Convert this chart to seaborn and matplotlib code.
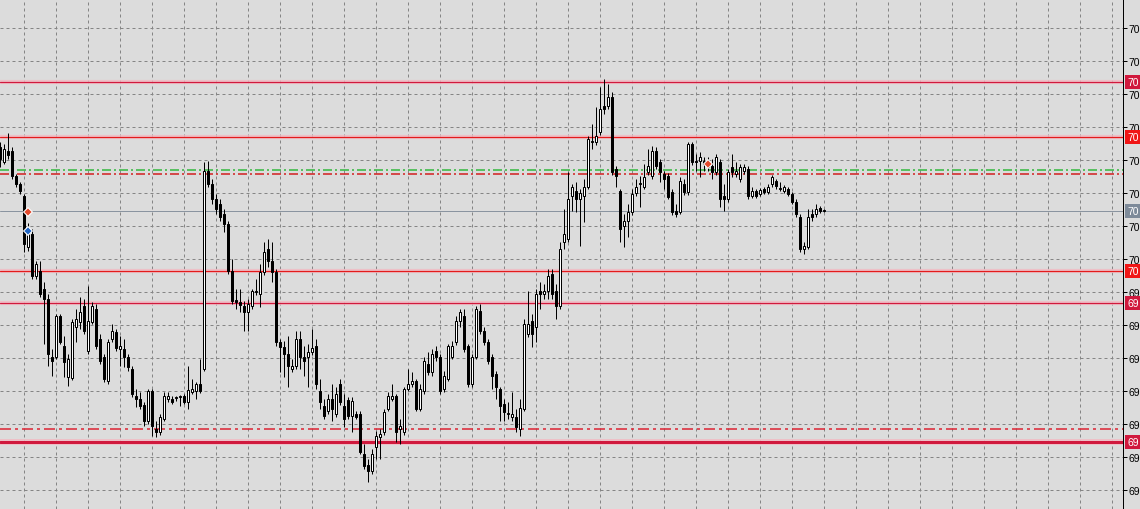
import numpy as np
import pandas as pd
import matplotlib
matplotlib.use("Agg")
from matplotlib import pyplot as plt
from matplotlib import transforms
import seaborn as sns

sns.set_theme(style="white")
plt.rcParams['font.family'] = ['Liberation Sans', 'DejaVu Sans']
plt.rcParams['lines.scale_dashes'] = False

# OHLC bars ~~~~~~~~~~~~~~~~~~~~~~~~~~~~~~~~~~~~~~~~~~~~~~~~~~~~~~~~~~~~~~~
open_ = [70.112, 70.097, 70.108, 70.108, 70.083, 70.075, 70.063, 70.012, 70.025, 69.983,
         69.988, 69.970, 69.960, 69.902, 69.902, 69.943, 69.913, 69.882, 69.881, 69.932,
         69.937, 69.953, 69.908, 69.937, 69.950, 69.920, 69.902, 69.878, 69.920, 69.927,
         69.910, 69.910, 69.902, 69.890, 69.863, 69.860, 69.854, 69.838, 69.868, 69.830,
         69.827, 69.840, 69.860, 69.860, 69.861, 69.862, 69.863, 69.857, 69.867, 69.868,
         69.875, 69.890, 70.088, 70.075, 70.060, 70.055, 70.045, 70.035, 69.988, 69.959,
         69.957, 69.953, 69.947, 69.953, 69.967, 69.965, 69.987, 70.010, 69.998, 69.987,
         69.917, 69.912, 69.905, 69.890, 69.893, 69.920, 69.902, 69.902, 69.907, 69.913,
         69.868, 69.853, 69.848, 69.860, 69.845, 69.875, 69.853, 69.859, 69.843, 69.845,
         69.845, 69.805, 69.794, 69.788, 69.812, 69.822, 69.827, 69.850, 69.860, 69.863,
         69.830, 69.827, 69.870, 69.875, 69.878, 69.850, 69.868, 69.895, 69.887, 69.908,
         69.902, 69.870, 69.880, 69.902, 69.917, 69.938, 69.943, 69.913, 69.875, 69.902,
         69.948, 69.928, 69.917, 69.902, 69.885, 69.870, 69.855, 69.845, 69.842, 69.842,
         69.830, 69.850, 69.925, 69.938, 69.932, 69.968, 69.965, 69.968, 69.985, 69.968,
         69.953, 70.017, 70.020, 70.063, 70.068, 70.060, 70.063, 70.072, 70.117, 70.117,
         70.127, 70.153, 70.153, 70.162, 70.090, 70.068, 70.033, 70.038, 70.047, 70.066,
         70.075, 70.072, 70.087, 70.083, 70.108, 70.097, 70.085, 70.083, 70.067, 70.048,
         70.047, 70.075, 70.067, 70.115, 70.098, 70.098, 70.098, 70.097, 70.093, 70.087,
         70.097, 70.063, 70.060, 70.092, 70.085, 70.080, 70.088, 70.090, 70.063, 70.068,
         70.065, 70.070, 70.067, 70.075, 70.078, 70.070, 70.068, 70.070, 70.065, 70.057,
         70.042, 70.010, 70.012, 70.045, 70.045, 70.051, 70.048]

high = [70.117, 70.115, 70.126, 70.112, 70.085, 70.077, 70.065, 70.036, 70.030, 69.998,
        69.998, 69.977, 69.965, 69.910, 69.945, 69.945, 69.923, 69.905, 69.940, 69.950,
        69.962, 69.960, 69.973, 69.957, 69.955, 69.925, 69.905, 69.920, 69.935, 69.930,
        69.923, 69.920, 69.905, 69.893, 69.870, 69.867, 69.857, 69.870, 69.870, 69.838,
        69.845, 69.867, 69.867, 69.863, 69.863, 69.864, 69.865, 69.893, 69.880, 69.877,
        69.900, 70.097, 70.098, 70.080, 70.065, 70.060, 70.050, 70.038, 70.000, 69.970,
        69.970, 69.958, 69.960, 69.970, 69.980, 69.995, 70.017, 70.020, 70.017, 69.990,
        69.920, 69.918, 69.923, 69.900, 69.928, 69.928, 69.913, 69.915, 69.930, 69.920,
        69.880, 69.860, 69.865, 69.875, 69.872, 69.880, 69.865, 69.862, 69.862, 69.848,
        69.848, 69.815, 69.800, 69.810, 69.828, 69.830, 69.850, 69.867, 69.875, 69.865,
        69.840, 69.872, 69.890, 69.887, 69.880, 69.875, 69.902, 69.907, 69.910, 69.913,
        69.905, 69.888, 69.915, 69.918, 69.943, 69.950, 69.950, 69.915, 69.905, 69.953,
        69.955, 69.932, 69.920, 69.905, 69.888, 69.872, 69.860, 69.857, 69.867, 69.850,
        69.860, 69.940, 69.968, 69.945, 69.970, 69.977, 69.975, 69.990, 69.990, 69.975,
        70.017, 70.050, 70.087, 70.075, 70.077, 70.070, 70.080, 70.123, 70.135, 70.152,
        70.172, 70.180, 70.175, 70.167, 70.093, 70.070, 70.045, 70.055, 70.070, 70.080,
        70.083, 70.095, 70.110, 70.113, 70.112, 70.100, 70.088, 70.086, 70.070, 70.055,
        70.082, 70.080, 70.117, 70.117, 70.105, 70.107, 70.102, 70.102, 70.100, 70.105,
        70.100, 70.075, 70.090, 70.105, 70.097, 70.095, 70.095, 70.093, 70.072, 70.070,
        70.071, 70.072, 70.075, 70.084, 70.080, 70.077, 70.074, 70.072, 70.067, 70.060,
        70.045, 70.017, 70.050, 70.050, 70.055, 70.053, 70.050]

low = [70.092, 70.095, 70.100, 70.080, 70.072, 70.065, 70.007, 70.008, 69.980, 69.980,
       69.962, 69.915, 69.893, 69.883, 69.900, 69.915, 69.882, 69.873, 69.879, 69.917,
       69.930, 69.925, 69.905, 69.935, 69.910, 69.895, 69.877, 69.875, 69.917, 69.908,
       69.893, 69.892, 69.888, 69.862, 69.852, 69.850, 69.833, 69.835, 69.823, 69.822,
       69.824, 69.838, 69.857, 69.855, 69.858, 69.853, 69.855, 69.850, 69.865, 69.860,
       69.866, 69.888, 70.072, 70.055, 70.045, 70.038, 70.027, 69.985, 69.955, 69.950,
       69.947, 69.928, 69.928, 69.950, 69.964, 69.952, 69.984, 69.992, 69.977, 69.913,
       69.887, 69.882, 69.872, 69.887, 69.890, 69.890, 69.883, 69.872, 69.904, 69.870,
       69.850, 69.840, 69.845, 69.838, 69.842, 69.854, 69.832, 69.840, 69.827, 69.840,
       69.805, 69.790, 69.777, 69.785, 69.800, 69.800, 69.824, 69.848, 69.858, 69.817,
       69.815, 69.824, 69.868, 69.872, 69.848, 69.848, 69.865, 69.884, 69.883, 69.898,
       69.865, 69.867, 69.878, 69.900, 69.914, 69.932, 69.907, 69.872, 69.872, 69.900,
       69.925, 69.914, 69.895, 69.870, 69.860, 69.838, 69.838, 69.840, 69.838, 69.827,
       69.823, 69.848, 69.922, 69.912, 69.917, 69.950, 69.960, 69.960, 69.960, 69.940,
       69.950, 70.010, 70.017, 70.048, 70.047, 70.013, 70.037, 70.070, 70.110, 70.114,
       70.124, 70.145, 70.150, 70.084, 70.072, 70.017, 70.012, 70.022, 70.044, 70.063,
       70.052, 70.070, 70.084, 70.080, 70.090, 70.077, 70.070, 70.060, 70.044, 70.042,
       70.045, 70.064, 70.064, 70.094, 70.088, 70.082, 70.088, 70.088, 70.080, 70.084,
       70.052, 70.048, 70.057, 70.082, 70.082, 70.077, 70.085, 70.060, 70.061, 70.061,
       70.063, 70.065, 70.065, 70.072, 70.070, 70.068, 70.066, 70.063, 70.055, 70.042,
       70.007, 70.005, 70.010, 70.038, 70.042, 70.046, 70.047]

close = [70.100, 70.110, 70.104, 70.083, 70.075, 70.068, 70.015, 70.030, 69.983, 69.995,
         69.965, 69.960, 69.905, 69.898, 69.943, 69.917, 69.897, 69.900, 69.937, 69.940,
         69.947, 69.928, 69.938, 69.953, 69.913, 69.898, 69.880, 69.917, 69.928, 69.911,
         69.913, 69.902, 69.892, 69.865, 69.860, 69.853, 69.838, 69.868, 69.833, 69.827,
         69.842, 69.863, 69.863, 69.857, 69.861, 69.862, 69.857, 69.869, 69.870, 69.875,
         69.868, 70.088, 70.075, 70.060, 70.050, 70.042, 70.035, 69.988, 69.958, 69.957,
         69.954, 69.947, 69.955, 69.968, 69.968, 69.987, 70.007, 69.998, 69.987, 69.917,
         69.912, 69.905, 69.893, 69.893, 69.920, 69.902, 69.898, 69.907, 69.911, 69.875,
         69.857, 69.843, 69.860, 69.850, 69.865, 69.857, 69.840, 69.843, 69.858, 69.842,
         69.807, 69.793, 69.788, 69.805, 69.823, 69.825, 69.847, 69.863, 69.863, 69.827,
         69.833, 69.870, 69.875, 69.878, 69.850, 69.870, 69.898, 69.887, 69.905, 69.902,
         69.868, 69.883, 69.913, 69.913, 69.938, 69.947, 69.910, 69.875, 69.902, 69.950,
         69.928, 69.917, 69.898, 69.883, 69.872, 69.853, 69.847, 69.845, 69.845, 69.832,
         69.851, 69.935, 69.935, 69.925, 69.965, 69.965, 69.968, 69.983, 69.965, 69.953,
         70.010, 70.025, 70.060, 70.072, 70.060, 70.066, 70.072, 70.120, 70.118, 70.123,
         70.150, 70.150, 70.162, 70.087, 70.083, 70.030, 70.038, 70.047, 70.065, 70.072,
         70.075, 70.082, 70.093, 70.108, 70.093, 70.087, 70.080, 70.062, 70.047, 70.045,
         70.078, 70.067, 70.115, 70.097, 70.097, 70.102, 70.095, 70.092, 70.087, 70.102,
         70.060, 70.060, 70.087, 70.087, 70.088, 70.092, 70.092, 70.063, 70.068, 70.063,
         70.069, 70.067, 70.072, 70.082, 70.073, 70.070, 70.072, 70.065, 70.057, 70.045,
         70.010, 70.013, 70.042, 70.042, 70.050, 70.048, 70.048]

# horizontal levels
sr_levels = [70.177, 70.122, 69.988, 69.956, 69.817]   # solid lines with price tag
sr_tags = ["70", "70", "70", "69", "69"]
pivot_green = 70.0895
pivot_red = 70.0855
dashed_level = 69.830
bid_price = 70.048
bid_tag = "70"

# trade arrows
trade_bar = [7, 7, 177]
trade_price = [70.047, 70.028, 70.095]
trade_side = ["sell", "buy", "sell"]

# right axis
tick_prices = [70.231, 70.198, 70.165, 70.132, 70.099, 70.066, 70.033, 70.000,
               69.967, 69.934, 69.901, 69.868, 69.835, 69.802, 69.769]
tick_labels = ["70", "70", "70", "70", "70", "70", "70", "70",
               "69", "69", "69", "69", "69", "69", "69"]

df = pd.DataFrame({'open': open_, 'high': high, 'low': low, 'close': close})
df['bar'] = np.arange(len(df))
df['up'] = df['close'] >= df['open']

PX = 0.72  # one pixel in points
BG = '#dcdcdc'

fig = plt.figure(figsize=(11.4, 5.1), dpi=100, facecolor=BG)
ax = fig.add_axes([0, 0, 1123 / 1140, 1])
ax.set_facecolor(BG)

# grid ~~~~~~~~~~~~~~~~~~~~~~~~~~~~~~~~~~~~~~~~~~~~~~~~~~~~~~~~~~~~~~~~~~~~
for gx in np.arange(6, 281, 8):
    ax.axvline(gx, color='#858585', lw=PX, dashes=(3 * PX, 3 * PX), zorder=1)
for gy in tick_prices:
    ax.axhline(gy, color='#858585', lw=PX, dashes=(3 * PX, 3 * PX), zorder=1)

# levels
crimson = '#d0193d'
red = '#e31b1b'
halo = '#f2b9c2'
sr_colors = [crimson, red, red, crimson, crimson]
sr_widths = [1.2, 1.2, 1.2, 1.2, 3.0]
for p, c, w in zip(sr_levels, sr_colors, sr_widths):
    ax.axhline(p, color=halo, lw=(w + 3) * PX, alpha=0.8, zorder=2)
    ax.axhline(p, color=c, lw=w * PX, zorder=3)

ax.axhline(pivot_green, color='#2fb83a', lw=1.5 * PX,
           dashes=(9 * PX, 3 * PX, 2 * PX, 3 * PX), zorder=3)
ax.axhline(pivot_red, color='#d21c1c', lw=1.5 * PX,
           dashes=(9 * PX, 3 * PX, 2 * PX, 3 * PX), zorder=3)
ax.axhline(dashed_level, color='#dc2030', lw=1.5 * PX,
           dashes=(11 * PX, 4 * PX, 3 * PX, 4 * PX), zorder=3)
ax.axhline(bid_price, color='#8a94a0', lw=PX, zorder=3)

# candles ~~~~~~~~~~~~~~~~~~~~~~~~~~~~~~~~~~~~~~~~~~~~~~~~~~~~~~~~~~~~~~~~~
ax.vlines(df['bar'], df['low'], df['high'], color='black', lw=PX, zorder=4)
body_low = df[['open', 'close']].min(axis=1)
body_h = (df['close'] - df['open']).abs().clip(lower=0.0007)
ax.bar(df['bar'], body_h, bottom=body_low, width=0.6,
       color=np.where(df['up'], 'white', 'black'),
       edgecolor='black', linewidth=PX, zorder=5)

# trade arrows
trades = pd.DataFrame({'bar': trade_bar, 'price': trade_price, 'side': trade_side})
sns.scatterplot(data=trades, x='bar', y='price', hue='side',
                palette={'sell': '#e4492c', 'buy': '#2166c4'},
                marker='D', s=20, edgecolor='white', linewidth=0.8,
                legend=False, ax=ax, zorder=6)

# axes, ticks ~~~~~~~~~~~~~~~~~~~~~~~~~~~~~~~~~~~~~~~~~~~~~~~~~~~~~~~~~~~~~
ax.set_xlim(0, 280.75)
ax.set_ylim(69.750, 70.260)
ax.set_xlabel('')
ax.set_ylabel('')
ax.set_xticks([])
ax.yaxis.tick_right()
ax.set_yticks(tick_prices)
ax.set_yticklabels(tick_labels)
ax.tick_params(axis='y', right=True, left=False, length=3, width=PX,
               color='black', pad=1, labelsize=7.5, labelcolor='black', direction='out')
for side in ['top', 'left', 'bottom']:
    ax.spines[side].set_visible(False)
ax.spines['right'].set_color('black')
ax.spines['right'].set_linewidth(PX)

# price tags on the right axis
trans = transforms.blended_transform_factory(ax.transAxes, ax.transData)
tag_colors = [crimson, '#f01616', '#f01616', crimson, crimson]
for p, t, c in zip(sr_levels, sr_tags, tag_colors):
    ax.text(1.004, p, t, transform=trans, ha='left', va='center', fontsize=7.5,
            color='white', clip_on=False, zorder=7,
            bbox=dict(boxstyle='square,pad=0.22', facecolor=c, edgecolor='none'))
ax.text(1.004, bid_price, bid_tag, transform=trans, ha='left', va='center', fontsize=7.5,
        color='white', clip_on=False, zorder=7,
        bbox=dict(boxstyle='square,pad=0.22', facecolor='#7d8a99', edgecolor='none'))

fig.savefig('out.png', dpi=100, facecolor=BG)
